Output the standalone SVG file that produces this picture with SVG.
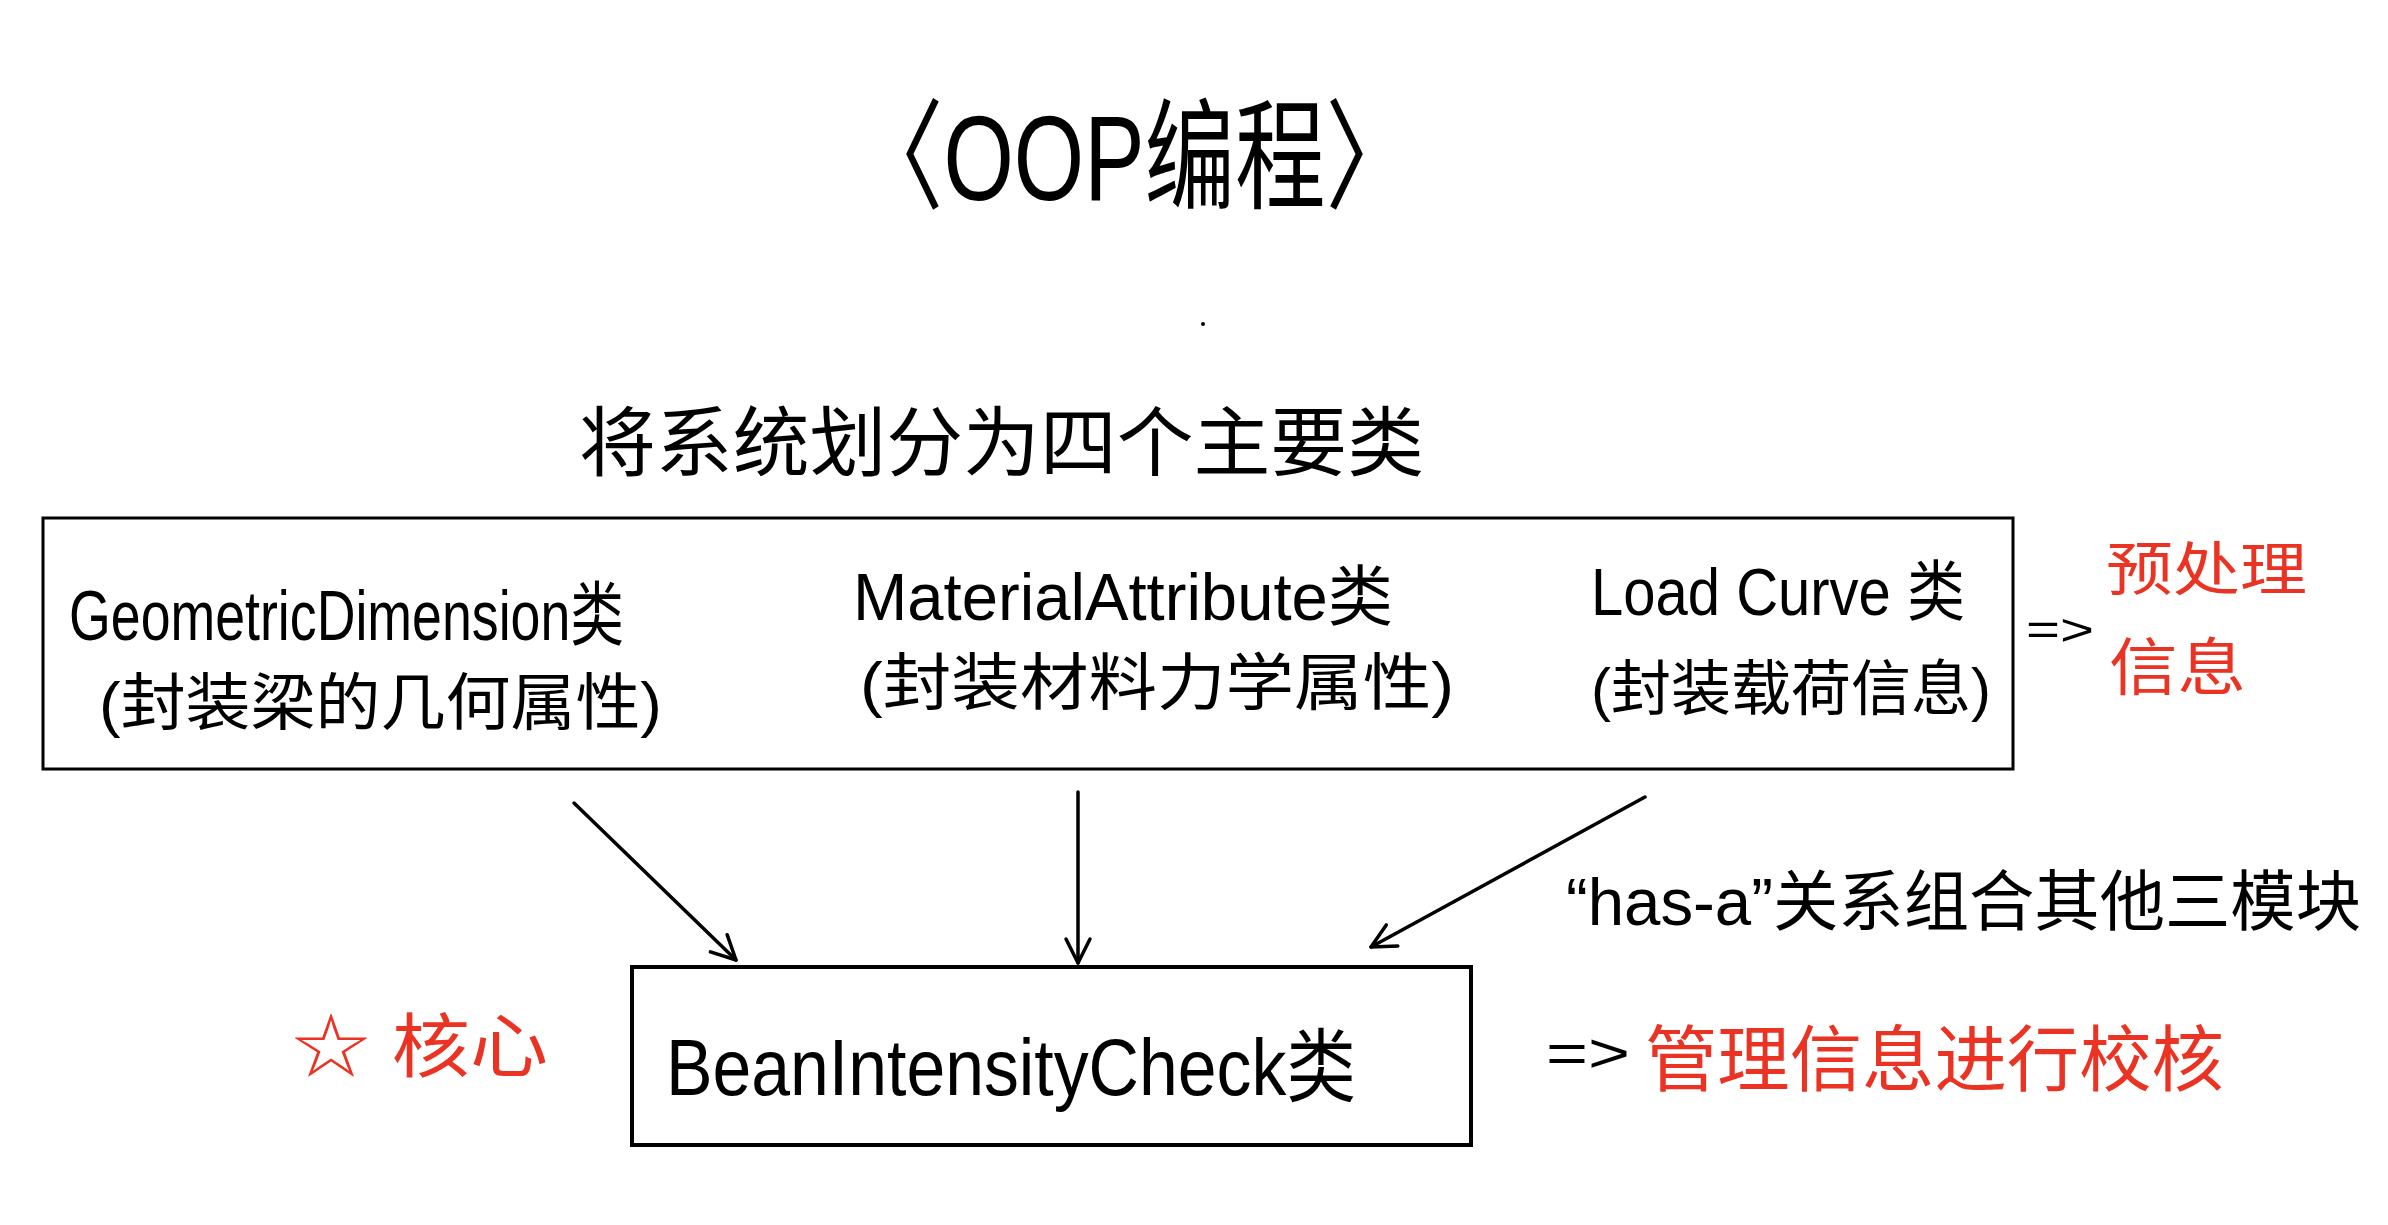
<svg xmlns="http://www.w3.org/2000/svg" width="2388" height="1225" viewBox="0 0 2388 1225">
<style>
.t{font-family:"Liberation Sans","Noto Sans CJK SC",sans-serif;fill:#000}
.r{fill:#EA3323}
.box{fill:none;stroke:#000}
.conn{fill:none;stroke:#000;stroke-width:3.5;stroke-linecap:round}
</style>
<defs>
<marker id="ah" viewBox="0 0 30 30" refX="27" refY="15" markerWidth="30" markerHeight="30" markerUnits="userSpaceOnUse" orient="auto">
<path d="M3,3 L27,15 L3,27" fill="none" stroke="#000" stroke-width="3.5" stroke-linecap="round" stroke-linejoin="round"/>
</marker>
</defs>
<rect width="2388" height="1225" fill="#fff"/>
<g id="title">
<text class="t" x="853" y="200" font-size="120" textLength="563" lengthAdjust="spacingAndGlyphs">〈OOP编程〉</text>
</g>
<circle cx="1203" cy="324" r="2" fill="#000"/>
<g id="subtitle">
<text class="t" x="579" y="470" font-size="76" textLength="845" lengthAdjust="spacingAndGlyphs">将系统划分为四个主要类</text>
</g>
<g id="modules">
<rect class="box" x="43" y="518" width="1970" height="251" stroke-width="3"/>
<g id="geometric">
<text class="t" x="69" y="640" font-size="70" textLength="555" lengthAdjust="spacingAndGlyphs">GeometricDimension类</text>
<text class="t" x="99" y="725" font-size="62" textLength="563" lengthAdjust="spacingAndGlyphs">(封装梁的几何属性)</text>
</g>
<g id="material">
<text class="t" x="853" y="620" font-size="66" textLength="540" lengthAdjust="spacingAndGlyphs">MaterialAttribute类</text>
<text class="t" x="860" y="705" font-size="62" textLength="594" lengthAdjust="spacingAndGlyphs">(封装材料力学属性)</text>
</g>
<g id="load">
<text class="t" x="1591" y="615" font-size="66" textLength="374" lengthAdjust="spacingAndGlyphs">Load Curve 类</text>
<text class="t" x="1591" y="710" font-size="60" textLength="400" lengthAdjust="spacingAndGlyphs">(封装载荷信息)</text>
</g>
</g>
<g id="preprocess">
<text class="t" x="2026" y="645" font-size="44" textLength="68" lengthAdjust="spacingAndGlyphs">=&gt;</text>
<text class="t r" x="2106" y="590" font-size="58" textLength="201" lengthAdjust="spacingAndGlyphs">预处理</text>
<text class="t r" x="2109" y="690" font-size="62" textLength="137" lengthAdjust="spacingAndGlyphs">信息</text>
</g>
<g id="connectors">
<line class="conn" x1="574" y1="803" x2="736" y2="960" marker-end="url(#ah)"/>
<line class="conn" x1="1078" y1="792" x2="1078" y2="963" marker-end="url(#ah)"/>
<line class="conn" x1="1645" y1="797" x2="1371" y2="947" marker-end="url(#ah)"/>
</g>
<g id="hasa">
<text class="t" x="1566" y="925" font-size="66" textLength="795" lengthAdjust="spacingAndGlyphs">“has-a”关系组合其他三模块</text>
</g>
<g id="core">
<text class="t r" x="292" y="1072" font-size="70" textLength="256" lengthAdjust="spacingAndGlyphs">☆ 核心</text>
</g>
<g id="check">
<rect class="box" x="632" y="967" width="839" height="178" stroke-width="4"/>
<text class="t" x="666" y="1095" font-size="80" textLength="690" lengthAdjust="spacingAndGlyphs">BeanIntensityCheck类</text>
</g>
<g id="manage">
<text class="t" x="1546" y="1072" font-size="56" textLength="84" lengthAdjust="spacingAndGlyphs">=&gt;</text>
<text class="t r" x="1645" y="1085" font-size="72" textLength="579" lengthAdjust="spacingAndGlyphs">管理信息进行校核</text>
</g>
</svg>
